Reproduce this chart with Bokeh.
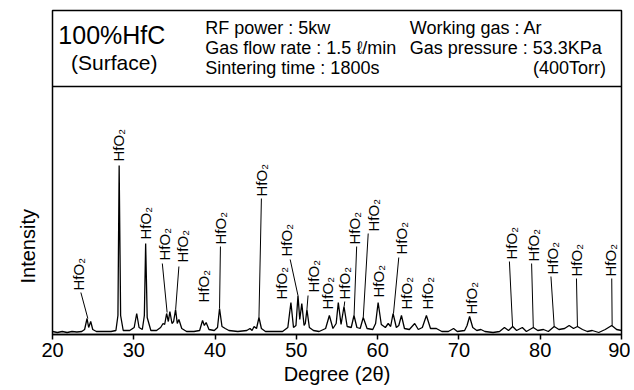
import math
from bokeh.plotting import figure
from bokeh.models import Label, Span, FixedTicker, ColumnDataSource, Title
from bokeh.core.properties import value
from bokeh.embed import file_html
from bokeh.resources import INLINE

# ---- data (2-theta in degrees, intensity in arbitrary units) ----
two_theta = [20.0, 20.6, 21.2, 21.8, 22.4, 23.0, 23.6, 23.95, 24.25, 24.45, 24.7, 24.95, 25.4, 26.2, 27.2,
             27.8, 28.05, 28.2, 28.38, 28.7, 29.5, 30.05, 30.36, 30.65, 31.05, 31.3, 31.46, 31.65, 32.1, 32.8,
             33.3, 33.6, 33.8, 34.04, 34.25, 34.44, 34.7, 34.9, 35.14, 35.35, 35.55, 35.9, 36.5, 37.4, 38.1,
             38.46, 38.68, 38.9, 39.25, 39.9, 40.3, 40.55, 40.85, 41.25, 41.7, 42.8, 43.9, 44.3, 44.55, 44.8,
             45.1, 45.4, 45.7, 46.2, 47.2, 48.3, 48.95, 49.33, 49.65, 49.95, 50.2, 50.42, 50.67, 50.95, 51.1,
             51.3, 51.6, 52.1, 52.8, 53.6, 54.06, 54.5, 54.9, 55.16, 55.5, 55.86, 56.25, 56.75, 57.09, 57.45,
             57.85, 58.23, 58.7, 59.4, 59.75, 60.06, 60.45, 60.95, 61.3, 61.6, 61.9, 62.3, 62.6, 62.93, 63.3,
             63.9, 64.56, 65.0, 65.5, 66.0, 66.5, 67.22, 67.9, 68.7, 69.34, 69.8, 70.7, 71.0, 71.31, 71.7,
             72.2, 72.7, 73.2, 74.2, 75.0, 75.6, 76.1, 76.61, 77.1, 77.8, 78.3, 79.15, 79.7, 80.4, 81.0,
             81.72, 82.3, 83.0, 83.56, 84.1, 84.58, 85.2, 85.8, 86.4, 87.2, 88.0, 88.8, 89.4, 90.0]
intensity = [2, 1, 2, 1, 2, 1.5, 2, 4, 15, 6, 12, 4, 2, 2, 2,
             3, 18, 168, 18, 3, 3, 6, 20, 6, 4, 18, 90, 16, 3, 3,
             6, 10, 9, 20, 12, 22, 10, 12, 24, 10, 14, 5, 2, 2, 3,
             13, 8, 11, 4, 3, 6, 25, 7, 5, 3, 2, 3, 5, 3, 7,
             5, 16, 5, 2, 2, 2, 6, 31, 6, 8, 38, 14, 30, 8, 10,
             24, 6, 3, 2, 5, 18, 5, 10, 31, 9, 27, 7, 6, 18, 6,
             5, 16, 5, 4, 10, 31, 9, 6, 10, 7, 20, 6, 8, 18, 5,
             4, 10, 4, 6, 18, 5, 5, 2, 2, 5, 2, 3, 8, 17, 6,
             3, 4, 2, 1, 2, 6, 3, 7, 3, 6, 2, 6, 3, 4, 2,
             7, 4, 5, 8, 5, 7, 4, 2, 3, 1, 4, 8, 4, 3]

# peak annotations: label anchor (bottom of rotated text)
label_theta = [23.25, 28.15, 31.46, 33.8, 35.96, 38.54, 40.66, 45.77, 48.13, 48.83, 52.06, 53.78, 55.98,
               57.2, 59.45, 60.06, 62.93, 63.55, 66.19, 71.51, 76.42, 79.15, 81.52, 84.46, 88.68]
label_int = [43, 172, 94, 73, 71, 31, 89, 137, 34, 77, 41, 24, 34,
             89, 102, 36, 79, 24, 24, 19, 74, 72, 59, 57, 57]
label_text = ["HfO\u2082"] * len(label_theta)

# leader lines: from label to peak
lead_from_theta = [23.49, 33.51, 35.55, 40.66, 45.70, 49.24, 51.44, 55.95, 57.42, 58.84, 62.60, 76.21, 78.94, 81.32, 84.46, 88.80]
lead_from_int = [41, 70, 67, 87, 135, 74, 38, 32, 87, 100, 76, 72, 70, 57, 55, 55]
lead_to_theta = [24.35, 34.10, 35.15, 40.55, 45.40, 50.20, 51.30, 55.88, 57.10, 58.23, 61.95, 76.60, 79.15, 81.72, 84.58, 88.85]
lead_to_int = [15, 21, 24, 25, 16, 38, 24, 27, 18, 16, 20, 7, 6, 7, 7, 8]

x_ticks = [20, 30, 40, 50, 60, 70, 80, 90]

title_main = "100%HfC"
title_sub = "(Surface)"
cond_left = ["RF power : 5kw", "Gas flow rate : 1.5 \u2113/min", "Sintering time : 1800s"]
cond_right = ["Working gas : Ar", "Gas pressure : 53.3KPa"]
cond_right_extra = "(400Torr)"

FONT = "Liberation Sans"

p = figure(width=630, height=390, x_range=(20, 90), y_range=(-1, 323),
           output_backend="svg", toolbar_location=None,
           min_border_left=51, min_border_right=9, min_border_top=10, min_border_bottom=56)
p.background_fill_color = "white"
p.border_fill_color = "white"
p.outline_line_color = "black"
p.outline_line_width = 1.5
p.xgrid.visible = False
p.ygrid.visible = False
p.yaxis.visible = False

ax = p.xaxis[0]
ax.ticker = FixedTicker(ticks=x_ticks)
ax.major_label_text_font = FONT
ax.major_label_text_font_size = "20px"
ax.major_label_text_color = "black"
ax.major_label_standoff = 3
ax.major_tick_out = 5
ax.major_tick_in = 0
ax.minor_tick_out = 0
ax.minor_tick_in = 0
ax.axis_line_width = 1.5
ax.major_tick_line_width = 1.5
ax.axis_label = "Degree (2\u03b8)"
ax.axis_label_text_font = FONT
ax.axis_label_text_font_size = "20px"
ax.axis_label_text_font_style = "normal"
ax.axis_label_text_color = "black"
ax.axis_label_standoff = 3

# y-axis title as a side title, shifted up from the bottom of the frame
p.add_layout(Title(text="Intensity", align="left", offset=51, standoff=28,
                   text_font=FONT, text_font_size="20px", text_font_style="normal",
                   text_color="black"), "left")

# spectrum
p.line(two_theta, intensity, line_color="black", line_width=1.3)

# leaders
p.segment(x0=lead_from_theta, y0=lead_from_int, x1=lead_to_theta, y1=lead_to_int,
          line_color="black", line_width=1)

# peak labels
src = ColumnDataSource(dict(x=label_theta, y=label_int, t=label_text))
p.text(x="x", y="y", text="t", source=src, angle=math.pi / 2,
       text_align="left", text_baseline="middle",
       text_font=value(FONT), text_font_size="15px", text_color="black")

# header box divider
p.add_layout(Span(location=247, dimension="width", line_color="black", line_width=1.5))

def lab(x, y, text, size, align="left"):
    p.add_layout(Label(x=x, y=y, text=text, text_font=FONT, text_font_size=size,
                       text_align=align, text_baseline="middle", text_color="black"))

lab(27.3, 299, title_main, "25px", "center")
lab(27.6, 271, title_sub, "21px", "center")
for i, t in enumerate(cond_left):
    lab(38.8, 306 - 20 * i, t, "18px")
for i, t in enumerate(cond_right):
    lab(63.95, 306 - 20 * i, t, "18px")
lab(88.1, 266, cond_right_extra, "18px", "right")

open("out.html", "w").write(file_html(p, INLINE))
